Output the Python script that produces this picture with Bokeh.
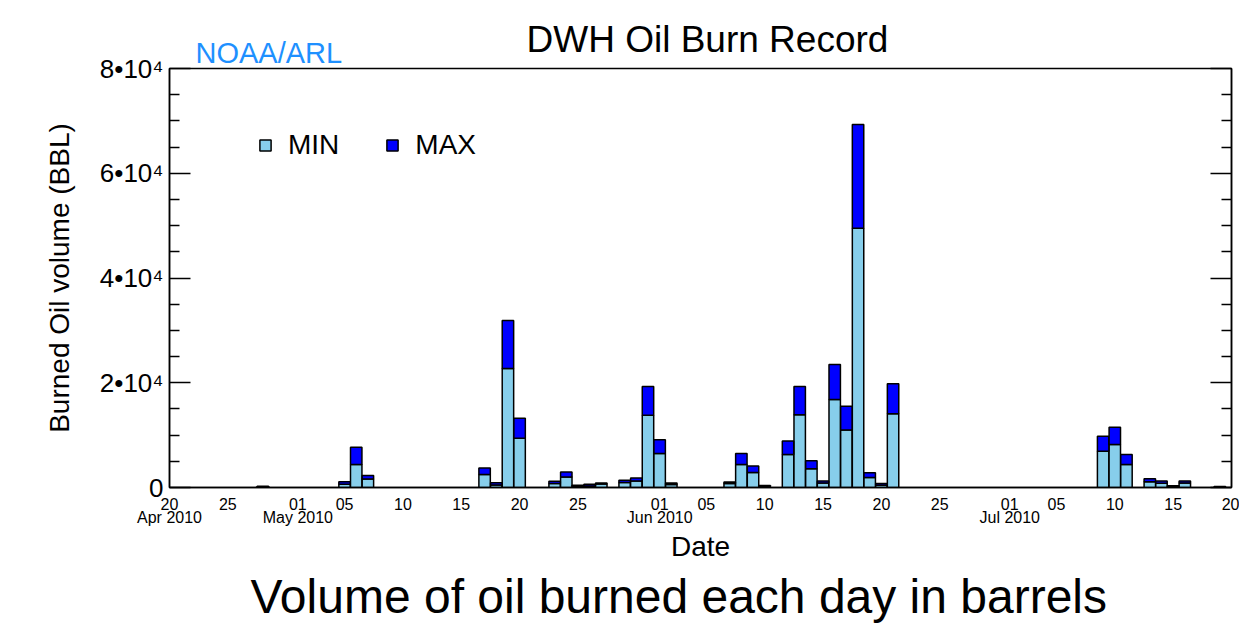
import pandas as pd
from bokeh.plotting import figure
from bokeh.models import (ColumnDataSource, FixedTicker, CustomJSTickFormatter, LinearAxis,
                          Legend, LegendItem, Title, Range1d)
from bokeh.embed import file_html
from bokeh.resources import INLINE

# ---------------- data ----------------
dates = ["2010-04-28", "2010-05-05", "2010-05-06", "2010-05-07", "2010-05-17", "2010-05-18",
         "2010-05-19", "2010-05-20", "2010-05-23", "2010-05-24", "2010-05-25", "2010-05-26",
         "2010-05-27", "2010-05-29", "2010-05-30", "2010-05-31", "2010-06-01", "2010-06-02",
         "2010-06-07", "2010-06-08", "2010-06-09", "2010-06-10", "2010-06-12", "2010-06-13",
         "2010-06-14", "2010-06-15", "2010-06-16", "2010-06-17", "2010-06-18", "2010-06-19",
         "2010-06-20", "2010-06-21", "2010-07-09", "2010-07-10", "2010-07-11", "2010-07-13",
         "2010-07-14", "2010-07-15", "2010-07-16", "2010-07-19"]
min_bbl = [60, 600, 4400, 1600, 2500, 500,
           22700, 9400, 780, 2000, 200, 300,
           650, 950, 1250, 13800, 6500, 550,
           750, 4400, 2850, 150, 6300, 13900,
           3600, 850, 16800, 11000, 49500, 1900,
           450, 14100, 6900, 8200, 4400, 1100,
           800, 100, 850, 50]
max_bbl = [250, 1100, 7700, 2300, 3700, 900,
           31900, 13200, 1200, 2950, 450, 600,
           850, 1400, 1830, 19300, 9100, 850,
           1050, 6500, 4100, 400, 8900, 19300,
           5100, 1250, 23500, 15500, 69300, 2800,
           750, 19800, 9800, 11500, 6300, 1650,
           1250, 350, 1250, 200]

x_tick_dates = ["2010-04-20", "2010-04-25", "2010-05-01", "2010-05-05", "2010-05-10", "2010-05-15",
                "2010-05-20", "2010-05-25", "2010-06-01", "2010-06-05", "2010-06-10", "2010-06-15",
                "2010-06-20", "2010-06-25", "2010-07-01", "2010-07-05", "2010-07-10", "2010-07-15",
                "2010-07-20"]
x_tick_labels = ["20\nApr 2010", "25", "01\nMay 2010", "05", "10", "15",
                 "20", "25", "01\nJun 2010", "05", "10", "15",
                 "20", "25", "01\nJul 2010", "05", "10", "15",
                 "20"]
y_ticks = [0, 20000, 40000, 60000, 80000]
y_tick_labels = ["0", "2•10⁴", "4•10⁴", "6•10⁴", "8•10⁴"]
y_minor_ticks = [5000, 10000, 15000, 25000, 30000, 35000, 45000, 50000, 55000, 65000, 70000, 75000]

FONT = "Liberation Sans"

# ---------------- source ----------------
src = ColumnDataSource(data=dict(
    date=pd.to_datetime(dates),
    min_bbl=min_bbl,
    extra=[mx - mn for mx, mn in zip(max_bbl, min_bbl)],
))

tick_ms = [float(v) for v in (pd.to_datetime(x_tick_dates).astype("int64") // 10**6)]

p = figure(width=1239, height=627, x_axis_type="datetime",
           x_range=Range1d(pd.Timestamp("2010-04-20"), pd.Timestamp("2010-07-20")),
           y_range=Range1d(0, 80000),
           output_backend="svg", toolbar_location=None,
           min_border_left=169, min_border_right=8, min_border_top=68, min_border_bottom=140)

p.xgrid.visible = False
p.ygrid.visible = False
p.outline_line_color = "black"
p.outline_line_width = 1.5
p.background_fill_color = "white"
p.border_fill_color = "white"

renderers = p.vbar_stack(["min_bbl", "extra"], x="date", width=86400000 * 0.98,
                         color=["#87CEEB", "#0000FF"], line_color="black", line_width=1.5,
                         source=src)

# x axis
xa = p.xaxis[0]
xa.ticker = FixedTicker(ticks=tick_ms)
xa.formatter = CustomJSTickFormatter(args=dict(ms=tick_ms, labels=x_tick_labels),
                                     code="const i = ms.indexOf(tick); return i >= 0 ? labels[i] : '';")
xa.major_tick_line_color = None
xa.minor_tick_line_color = None
xa.axis_line_color = "black"
xa.axis_line_width = 1.5
xa.major_label_text_font = FONT
xa.major_label_text_font_size = "16px"
xa.major_label_text_color = "black"
xa.major_label_text_line_height = 0.79
xa.major_label_standoff = 2
xa.axis_label = "Date"
xa.axis_label_text_font = FONT
xa.axis_label_text_font_size = "28px"
xa.axis_label_text_font_style = "normal"
xa.axis_label_text_color = "black"
xa.axis_label_standoff = 2

# y axis
ya = p.yaxis[0]
ya.ticker = FixedTicker(ticks=y_ticks, minor_ticks=y_minor_ticks)
ya.major_label_overrides = dict(zip(y_ticks, y_tick_labels))
ya.major_tick_in = 21
ya.major_tick_out = 0
ya.minor_tick_in = 10
ya.minor_tick_out = 0
ya.major_tick_line_width = 1.5
ya.minor_tick_line_width = 1.5
ya.axis_line_width = 1.5
ya.major_label_text_font = FONT
ya.major_label_text_font_size = "26px"
ya.major_label_text_color = "black"
ya.major_label_standoff = 6
ya.axis_label = "Burned Oil volume (BBL)"
ya.axis_label_text_font = FONT
ya.axis_label_text_font_size = "28px"
ya.axis_label_text_font_style = "normal"
ya.axis_label_text_color = "black"
ya.axis_label_standoff = 22

# right axis (ticks only)
ra = LinearAxis(ticker=FixedTicker(ticks=y_ticks, minor_ticks=y_minor_ticks),
                formatter=CustomJSTickFormatter(code="return '';"),
                major_tick_in=21, major_tick_out=0, minor_tick_in=10, minor_tick_out=0,
                major_tick_line_width=1.5, minor_tick_line_width=1.5, axis_line_width=1.5,
                major_label_standoff=0)
p.add_layout(ra, "right")

# NOAA/ARL tag (inner title panel, next to the frame)
p.add_layout(Title(text="NOAA/ARL", align="left", offset=26, text_color="#1E90FF",
                   text_font=FONT, text_font_size="29px", text_font_style="normal",
                   standoff=0), "above")

# main title (outermost, pulled down beside the tag)
p.title.text = "DWH Oil Burn Record"
p.title.align = "left"
p.title.offset = 357
p.title.text_font = FONT
p.title.text_font_size = "37px"
p.title.text_font_style = "normal"
p.title.text_color = "black"
p.title.standoff = -51

# caption
p.add_layout(Title(text="Volume of oil burned each day in barrels", align="left", offset=81,
                   text_font=FONT, text_font_size="48px", text_font_style="normal",
                   text_color="black", standoff=6), "below")

# legend
legend = Legend(items=[LegendItem(label="MIN", renderers=[renderers[0]]),
                       LegendItem(label="MAX", renderers=[renderers[1]])],
                orientation="horizontal", location=(89, 326),
                glyph_width=14, glyph_height=14, label_standoff=16, spacing=46,
                padding=0, margin=0, border_line_alpha=0, background_fill_alpha=0,
                label_text_font=FONT, label_text_font_size="28px", label_text_color="black")
p.add_layout(legend, "center")

open("out.html", "w").write(file_html(p, INLINE))
